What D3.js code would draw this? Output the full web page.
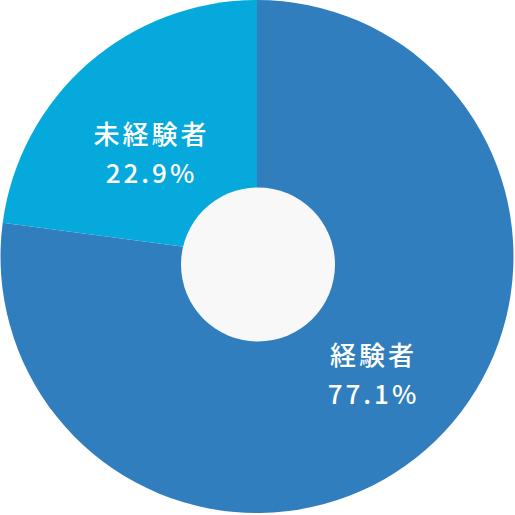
<!DOCTYPE html>
<html>
<head>
<meta charset="utf-8">
<script src="https://cdn.jsdelivr.net/npm/d3@7"></script>
<style>
html,body{margin:0;padding:0;background:#fff;}
svg{display:block;}
text{font-family:"Noto Sans CJK JP","Noto Sans",sans-serif;}
</style>
</head>
<body>
<svg id="chart" width="515" height="515"></svg>
<script>
const categories = ["経験者", "未経験者"];
const values = [77.1, 22.9];
const valueLabels = ["77.1%", "22.9%"];
const colors = ["#307ebe", "#06a9db"];

const W = 515, H = 515;
const cx = 257, cy = 256.5, R = 256.5;
const innerR = 77;

const svg = d3.select("#chart");
const g = svg.append("g").attr("transform", `translate(${cx},${cy})`);

const pie = d3.pie().sort(null).value(d => d.v);
const data = categories.map((c, i) => ({c, v: values[i], lbl: valueLabels[i], col: colors[i]}));
const arcs = pie(data);

const arc = d3.arc().innerRadius(0).outerRadius(R);
g.selectAll("path.slice").data(arcs).enter().append("path")
  .attr("class", "slice")
  .attr("d", arc)
  .attr("fill", d => d.data.col);

// center hole
svg.append("circle").attr("cx", 258).attr("cy", 264.5).attr("r", innerR).attr("fill", "#f8f8f8");

const labelPos = [[115, 116], [-107, -105]];
const ls = 3;
arcs.forEach((d, i) => {
  const [dx, dy] = labelPos[i];
  const t = g.append("text")
    .attr("text-anchor", "middle")
    .attr("fill", "#fff")
    .attr("font-size", 26)
    .attr("font-weight", 500)
    .attr("letter-spacing", ls);
  t.append("tspan").attr("x", dx + ls / 2).attr("y", dy - 8).text(d.data.c);
  t.append("tspan").attr("x", dx + ls / 2).attr("y", dy + 31).text(d.data.lbl);
});
</script>
</body>
</html>
